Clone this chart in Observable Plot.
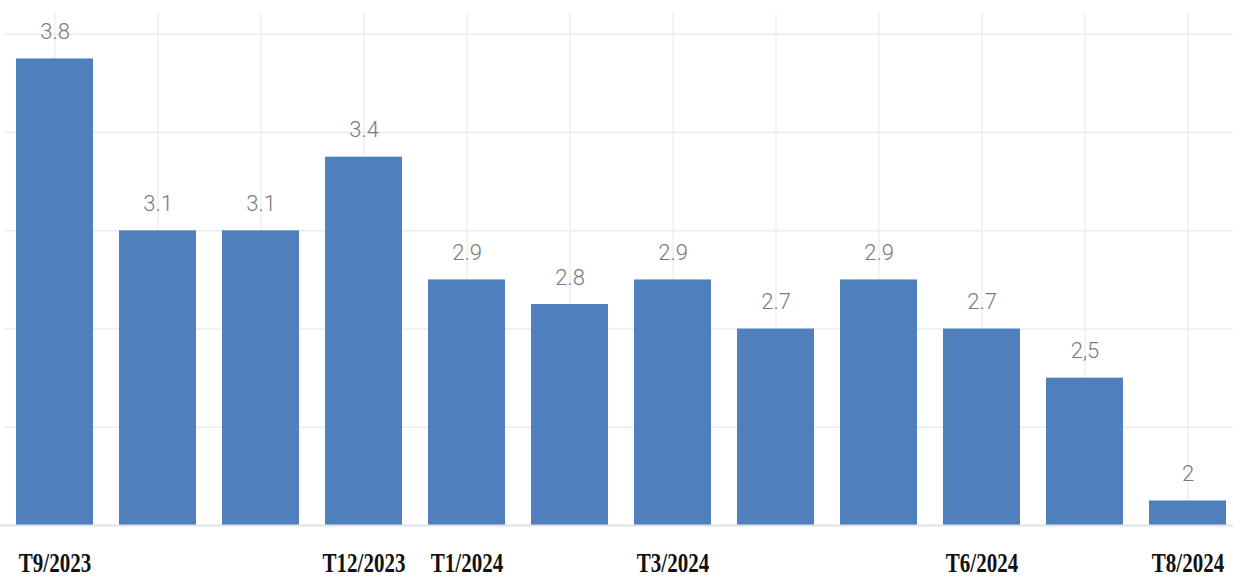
<!DOCTYPE html>
<html>
<head>
<meta charset="utf-8">
<script src="https://cdn.jsdelivr.net/npm/d3@7"></script>
<script src="https://cdn.jsdelivr.net/npm/@observablehq/plot@0.6"></script>
<style>
  html, body { margin: 0; padding: 0; background: #fff; }
  #chart svg { display: block; }
</style>
</head>
<body>
<div id="chart"></div>
<script>
const months = ["T9/2023","T10/2023","T11/2023","T12/2023","T1/2024","T2/2024","T3/2024","T4/2024","T5/2024","T6/2024","T7/2024","T8/2024"];
const values = [3.8, 3.1, 3.1, 3.4, 2.9, 2.8, 2.9, 2.7, 2.9, 2.7, 2.5, 2.0];
const valueLabels = ["3.8","3.1","3.1","3.4","2.9","2.8","2.9","2.7","2.9","2.7","2,5","2"];
const shownTicks = ["T9/2023","T12/2023","T1/2024","T3/2024","T6/2024","T8/2024"];
const gridValues = [2.3, 2.7, 3.1, 3.5, 3.9];
const yMin = 1.9, yMax = 3.985;

const data = months.map((m, i) => ({month: m, value: values[i], label: valueLabels[i]}));

const chart = Plot.plot({
  width: 1233,
  height: 576,
  marginTop: 13,
  marginLeft: 14,
  marginRight: 4,
  marginBottom: 51,
  style: {background: "#fff"},
  x: {domain: months, paddingInner: 0.25, paddingOuter: 0, axis: null, label: null},
  y: {domain: [yMin, yMax], axis: null},
  marks: [
    Plot.ruleY(gridValues, {stroke: "#ececec", strokeWidth: 1.5, insetLeft: -9, insetRight: -4}),
    Plot.ruleX(months, {x: d => d, stroke: "#efefef", strokeWidth: 1.5}),
    Plot.barY(data, {x: "month", y1: yMin, y2: "value", fill: "#4f7fbc"}),
    Plot.ruleY([yMin], {stroke: "#dfe3e8", strokeWidth: 2, insetLeft: -14, insetRight: -4}),
    Plot.text(data, {x: "month", y: "value", text: "label", dy: -27, lineAnchor: "middle",
      fill: "#7a7a7a", fontSize: 22, fontFamily: "Roboto, 'Liberation Sans', sans-serif", fontWeight: 300}),
    Plot.axisX({
      label: null,
      tickSize: 0, tickPadding: 27,
      tickFormat: d => shownTicks.includes(d) ? d : "",
      fontSize: 21, fontWeight: "bold", fill: "#111",
      fontFamily: "'Liberation Serif', 'Times New Roman', serif",
      ariaLabel: "month-labels"
    })
  ]
});
document.getElementById("chart").append(chart);
// stretch each bottom label vertically about its own anchor (condensed look of the reference)
const g = chart.querySelector('g[aria-label="month-labels tick label"]') || chart.querySelector('g[aria-label="month-labels"]');
if (g) {
  g.querySelectorAll("text").forEach(t => {
    const tr = t.getAttribute("transform") || "";
    t.setAttribute("transform", tr + " scale(1,1.3)");
  });
}
</script>
</body>
</html>
